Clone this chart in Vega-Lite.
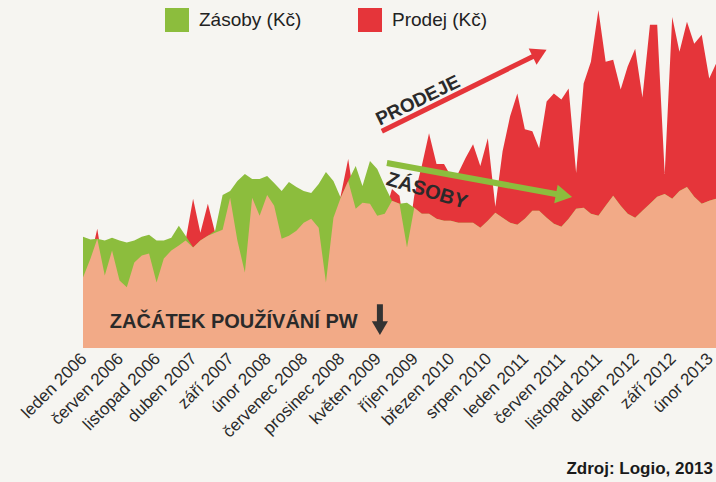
{
  "$schema": "https://vega.github.io/schema/vega-lite/v6.json",
  "width": 633,
  "height": 348,
  "autosize": {"type": "none"},
  "padding": {"left": 83, "top": 0, "right": 0, "bottom": 134},
  "background": "#f6f5f1",
  "config": {
    "view": {"stroke": null},
    "font": "Liberation Sans",
    "axisX": {
      "domain": false, "ticks": false, "grid": false,
      "labelAngle": -45, "labelFontSize": 17, "labelColor": "#2a2a2a", "labelPadding": 2,
      "labelFont": "Liberation Sans", "labelOverlap": false, "labelFlush": false, "labelBound": false,
      "labelOffset": -5
    }
  },
  "resolve": {"axis": {"x": "independent", "y": "independent"}},
  "datasets": {
    "main": [
      {"mesic": "2006-01-01", "zasoby": 112, "prodej": 71, "spolecne": 71},
      {"mesic": "2006-02-01", "zasoby": 109, "prodej": 90, "spolecne": 90},
      {"mesic": "2006-03-01", "zasoby": 110, "prodej": 120, "spolecne": 110},
      {"mesic": "2006-04-01", "zasoby": 108, "prodej": 73, "spolecne": 73},
      {"mesic": "2006-05-01", "zasoby": 111, "prodej": 98, "spolecne": 98},
      {"mesic": "2006-06-01", "zasoby": 108, "prodej": 68, "spolecne": 68},
      {"mesic": "2006-07-01", "zasoby": 106, "prodej": 61, "spolecne": 61},
      {"mesic": "2006-08-01", "zasoby": 108, "prodej": 86, "spolecne": 86},
      {"mesic": "2006-09-01", "zasoby": 112, "prodej": 93, "spolecne": 93},
      {"mesic": "2006-10-01", "zasoby": 114, "prodej": 95, "spolecne": 95},
      {"mesic": "2006-11-01", "zasoby": 108, "prodej": 66, "spolecne": 66},
      {"mesic": "2006-12-01", "zasoby": 108, "prodej": 90, "spolecne": 90},
      {"mesic": "2007-01-01", "zasoby": 111, "prodej": 98, "spolecne": 98},
      {"mesic": "2007-02-01", "zasoby": 123, "prodej": 103, "spolecne": 103},
      {"mesic": "2007-03-01", "zasoby": 113, "prodej": 108, "spolecne": 108},
      {"mesic": "2007-04-01", "zasoby": 101, "prodej": 150, "spolecne": 101},
      {"mesic": "2007-05-01", "zasoby": 108, "prodej": 116, "spolecne": 108},
      {"mesic": "2007-06-01", "zasoby": 113, "prodej": 145, "spolecne": 113},
      {"mesic": "2007-07-01", "zasoby": 118, "prodej": 116, "spolecne": 116},
      {"mesic": "2007-08-01", "zasoby": 154, "prodej": 119, "spolecne": 119},
      {"mesic": "2007-09-01", "zasoby": 158, "prodej": 151, "spolecne": 151},
      {"mesic": "2007-10-01", "zasoby": 168, "prodej": 108, "spolecne": 108},
      {"mesic": "2007-11-01", "zasoby": 175, "prodej": 76, "spolecne": 76},
      {"mesic": "2007-12-01", "zasoby": 170, "prodej": 151, "spolecne": 151},
      {"mesic": "2008-01-01", "zasoby": 170, "prodej": 133, "spolecne": 133},
      {"mesic": "2008-02-01", "zasoby": 173, "prodej": 154, "spolecne": 154},
      {"mesic": "2008-03-01", "zasoby": 166, "prodej": 143, "spolecne": 143},
      {"mesic": "2008-04-01", "zasoby": 158, "prodej": 110, "spolecne": 110},
      {"mesic": "2008-05-01", "zasoby": 167, "prodej": 113, "spolecne": 113},
      {"mesic": "2008-06-01", "zasoby": 162, "prodej": 118, "spolecne": 118},
      {"mesic": "2008-07-01", "zasoby": 158, "prodej": 126, "spolecne": 126},
      {"mesic": "2008-08-01", "zasoby": 156, "prodej": 130, "spolecne": 130},
      {"mesic": "2008-09-01", "zasoby": 165, "prodej": 121, "spolecne": 121},
      {"mesic": "2008-10-01", "zasoby": 177, "prodej": 66, "spolecne": 66},
      {"mesic": "2008-11-01", "zasoby": 168, "prodej": 131, "spolecne": 131},
      {"mesic": "2008-12-01", "zasoby": 151, "prodej": 153, "spolecne": 151},
      {"mesic": "2009-01-01", "zasoby": 168, "prodej": 190, "spolecne": 168},
      {"mesic": "2009-02-01", "zasoby": 183, "prodej": 140, "spolecne": 140},
      {"mesic": "2009-03-01", "zasoby": 163, "prodej": 146, "spolecne": 146},
      {"mesic": "2009-04-01", "zasoby": 188, "prodej": 145, "spolecne": 145},
      {"mesic": "2009-05-01", "zasoby": 180, "prodej": 133, "spolecne": 133},
      {"mesic": "2009-06-01", "zasoby": 163, "prodej": 135, "spolecne": 135},
      {"mesic": "2009-07-01", "zasoby": 148, "prodej": 160, "spolecne": 148},
      {"mesic": "2009-08-01", "zasoby": 145, "prodej": 153, "spolecne": 145},
      {"mesic": "2009-09-01", "zasoby": 146, "prodej": 101, "spolecne": 101},
      {"mesic": "2009-10-01", "zasoby": 141, "prodej": 153, "spolecne": 141},
      {"mesic": "2009-11-01", "zasoby": 135, "prodej": 183, "spolecne": 135},
      {"mesic": "2009-12-01", "zasoby": 135, "prodej": 216, "spolecne": 135},
      {"mesic": "2010-01-01", "zasoby": 130, "prodej": 185, "spolecne": 130},
      {"mesic": "2010-02-01", "zasoby": 128, "prodej": 185, "spolecne": 128},
      {"mesic": "2010-03-01", "zasoby": 128, "prodej": 173, "spolecne": 128},
      {"mesic": "2010-04-01", "zasoby": 126, "prodej": 176, "spolecne": 126},
      {"mesic": "2010-05-01", "zasoby": 126, "prodej": 191, "spolecne": 126},
      {"mesic": "2010-06-01", "zasoby": 126, "prodej": 205, "spolecne": 126},
      {"mesic": "2010-07-01", "zasoby": 121, "prodej": 183, "spolecne": 121},
      {"mesic": "2010-08-01", "zasoby": 128, "prodej": 211, "spolecne": 128},
      {"mesic": "2010-09-01", "zasoby": 136, "prodej": 142, "spolecne": 136},
      {"mesic": "2010-10-01", "zasoby": 131, "prodej": 198, "spolecne": 131},
      {"mesic": "2010-11-01", "zasoby": 126, "prodej": 233, "spolecne": 126},
      {"mesic": "2010-12-01", "zasoby": 124, "prodej": 256, "spolecne": 124},
      {"mesic": "2011-01-01", "zasoby": 130, "prodej": 220, "spolecne": 130},
      {"mesic": "2011-02-01", "zasoby": 138, "prodej": 218, "spolecne": 138},
      {"mesic": "2011-03-01", "zasoby": 138, "prodej": 201, "spolecne": 138},
      {"mesic": "2011-04-01", "zasoby": 131, "prodej": 248, "spolecne": 131},
      {"mesic": "2011-05-01", "zasoby": 125, "prodej": 256, "spolecne": 125},
      {"mesic": "2011-06-01", "zasoby": 122, "prodej": 250, "spolecne": 122},
      {"mesic": "2011-07-01", "zasoby": 130, "prodej": 261, "spolecne": 130},
      {"mesic": "2011-08-01", "zasoby": 140, "prodej": 176, "spolecne": 140},
      {"mesic": "2011-09-01", "zasoby": 141, "prodej": 266, "spolecne": 141},
      {"mesic": "2011-10-01", "zasoby": 135, "prodej": 288, "spolecne": 135},
      {"mesic": "2011-11-01", "zasoby": 133, "prodej": 340, "spolecne": 133},
      {"mesic": "2011-12-01", "zasoby": 143, "prodej": 288, "spolecne": 143},
      {"mesic": "2012-01-01", "zasoby": 153, "prodej": 290, "spolecne": 153},
      {"mesic": "2012-02-01", "zasoby": 143, "prodej": 260, "spolecne": 143},
      {"mesic": "2012-03-01", "zasoby": 135, "prodej": 283, "spolecne": 135},
      {"mesic": "2012-04-01", "zasoby": 131, "prodej": 301, "spolecne": 131},
      {"mesic": "2012-05-01", "zasoby": 138, "prodej": 252, "spolecne": 138},
      {"mesic": "2012-06-01", "zasoby": 145, "prodej": 325, "spolecne": 145},
      {"mesic": "2012-07-01", "zasoby": 152, "prodej": 325, "spolecne": 152},
      {"mesic": "2012-08-01", "zasoby": 155, "prodej": 175, "spolecne": 155},
      {"mesic": "2012-09-01", "zasoby": 150, "prodej": 333, "spolecne": 150},
      {"mesic": "2012-10-01", "zasoby": 158, "prodej": 298, "spolecne": 158},
      {"mesic": "2012-11-01", "zasoby": 162, "prodej": 328, "spolecne": 162},
      {"mesic": "2012-12-01", "zasoby": 152, "prodej": 306, "spolecne": 152},
      {"mesic": "2013-01-01", "zasoby": 145, "prodej": 315, "spolecne": 145},
      {"mesic": "2013-02-01", "zasoby": 148, "prodej": 271, "spolecne": 148},
      {"mesic": "2013-03-01", "zasoby": 150, "prodej": 286, "spolecne": 150}
    ]
  },
  "layer": [
    {
      "data": {"name": "main"},
      "mark": {"type": "area", "interpolate": "linear"},
      "encoding": {
        "x": {
          "field": "mesic", "type": "temporal", "title": null,
          "scale": {"type": "utc", "domain": [{"year": 2006, "month": 1, "date": 1, "utc": true}, {"year": 2013, "month": 3, "date": 1, "utc": true}]},
          "axis": {
            "labelOverlap": false,
            "values": [
              {"year": 2006, "month": 1, "date": 1, "utc": true},
              {"year": 2006, "month": 6, "date": 1, "utc": true},
              {"year": 2006, "month": 11, "date": 1, "utc": true},
              {"year": 2007, "month": 4, "date": 1, "utc": true},
              {"year": 2007, "month": 9, "date": 1, "utc": true},
              {"year": 2008, "month": 2, "date": 1, "utc": true},
              {"year": 2008, "month": 7, "date": 1, "utc": true},
              {"year": 2008, "month": 12, "date": 1, "utc": true},
              {"year": 2009, "month": 5, "date": 1, "utc": true},
              {"year": 2009, "month": 10, "date": 1, "utc": true},
              {"year": 2010, "month": 3, "date": 1, "utc": true},
              {"year": 2010, "month": 8, "date": 1, "utc": true},
              {"year": 2011, "month": 1, "date": 1, "utc": true},
              {"year": 2011, "month": 6, "date": 1, "utc": true},
              {"year": 2011, "month": 11, "date": 1, "utc": true},
              {"year": 2012, "month": 4, "date": 1, "utc": true},
              {"year": 2012, "month": 9, "date": 1, "utc": true},
              {"year": 2013, "month": 2, "date": 1, "utc": true}
            ],
            "labelExpr": "['leden','únor','březen','duben','květen','červen','červenec','srpen','září','říjen','listopad','prosinec'][utcmonth(datum.value)] + ' ' + utcyear(datum.value)"
          }
        },
        "y": {"field": "prodej", "type": "quantitative", "title": null, "scale": {"domain": [0, 348]}, "axis": null},
        "color": {
          "datum": "Prodej (Kč)", "type": "nominal",
          "scale": {"domain": ["Zásoby (Kč)", "Prodej (Kč)"], "range": ["#8cbd3d", "#e5353a"]},
          "legend": {
            "title": null, "orient": "none", "direction": "horizontal", "legendX": 82, "legendY": 8,
            "symbolType": "square", "symbolSize": 576, "symbolStrokeWidth": 0,
            "labelFontSize": 19, "labelFont": "Liberation Sans", "labelColor": "#222222",
            "labelOffset": 10, "columnPadding": 56, "padding": 0
          }
        }
      }
    },
    {
      "data": {"name": "main"},
      "mark": {"type": "area", "interpolate": "linear"},
      "encoding": {
        "x": {"field": "mesic", "type": "temporal", "axis": null},
        "y": {"field": "zasoby", "type": "quantitative", "axis": null},
        "color": {"datum": "Zásoby (Kč)", "type": "nominal"}
      }
    },
    {
      "data": {"name": "main"},
      "mark": {"type": "area", "interpolate": "linear", "color": "#f2aa87"},
      "encoding": {
        "x": {"field": "mesic", "type": "temporal", "axis": null},
        "y": {"field": "spolecne", "type": "quantitative", "axis": null}
      }
    },
    {
      "data": {"values": [{"od": "2009-05-20", "do": "2011-03-03", "v_od": 218, "v_do": 296.5}]},
      "mark": {"type": "rule", "color": "#e5353a", "strokeWidth": 5},
      "encoding": {
        "x": {"field": "od", "type": "temporal", "axis": null},
        "x2": {"field": "do"},
        "y": {"field": "v_od", "type": "quantitative", "axis": null},
        "y2": {"field": "v_do"}
      }
    },
    {
      "data": {"values": [{"mesic": "2011-03-03", "hodnota": 296.5}]},
      "mark": {"type": "point", "shape": "triangle-right", "filled": true, "opacity": 1, "size": 320, "angle": -26, "color": "#e5353a"},
      "encoding": {
        "x": {"field": "mesic", "type": "temporal", "axis": null},
        "y": {"field": "hodnota", "type": "quantitative", "axis": null}
      }
    },
    {
      "data": {"values": [{"od": "2009-06-10", "do": "2011-06-12", "v_od": 186, "v_do": 153.4}]},
      "mark": {"type": "rule", "color": "#8cbd3d", "strokeWidth": 6},
      "encoding": {
        "x": {"field": "od", "type": "temporal", "axis": null},
        "x2": {"field": "do"},
        "y": {"field": "v_od", "type": "quantitative", "axis": null},
        "y2": {"field": "v_do"}
      }
    },
    {
      "data": {"values": [{"mesic": "2011-06-12", "hodnota": 153.4}]},
      "mark": {"type": "point", "shape": "triangle-right", "filled": true, "opacity": 1, "size": 360, "angle": 10.4, "color": "#8cbd3d"},
      "encoding": {
        "x": {"field": "mesic", "type": "temporal", "axis": null},
        "y": {"field": "hodnota", "type": "quantitative", "axis": null}
      }
    },
    {
      "data": {"values": [{"mesic": "2009-05-12", "od": 44, "do": 24}]},
      "mark": {"type": "rule", "color": "#333333", "strokeWidth": 6},
      "encoding": {
        "x": {"field": "mesic", "type": "temporal", "axis": null},
        "y": {"field": "od", "type": "quantitative", "axis": null},
        "y2": {"field": "do"}
      }
    },
    {
      "data": {"values": [{"mesic": "2009-05-12", "hodnota": 20}]},
      "mark": {"type": "point", "shape": "triangle-down", "filled": true, "opacity": 1, "size": 260, "color": "#333333"},
      "encoding": {
        "x": {"field": "mesic", "type": "temporal", "axis": null},
        "y": {"field": "hodnota", "type": "quantitative", "axis": null}
      }
    },
    {
      "data": {"values": [{"mesic": "2009-10-16", "hodnota": 249, "text": "PRODEJE"}]},
      "mark": {"type": "text", "fontSize": 19, "fontWeight": "bold", "color": "#2a2a2a", "angle": 334, "align": "center", "baseline": "middle"},
      "encoding": {
        "x": {"field": "mesic", "type": "temporal", "axis": null},
        "y": {"field": "hodnota", "type": "quantitative", "axis": null},
        "text": {"field": "text"}
      }
    },
    {
      "data": {"values": [{"mesic": "2009-11-22", "hodnota": 158, "text": "ZÁSOBY"}]},
      "mark": {"type": "text", "fontSize": 20, "fontWeight": "bold", "color": "#2a2a2a", "angle": 17, "align": "center", "baseline": "middle"},
      "encoding": {
        "x": {"field": "mesic", "type": "temporal", "axis": null},
        "y": {"field": "hodnota", "type": "quantitative", "axis": null},
        "text": {"field": "text"}
      }
    },
    {
      "data": {"values": [{"mesic": "2006-04-22", "hodnota": 26, "text": "ZAČÁTEK POUŽÍVÁNÍ PW"}]},
      "mark": {"type": "text", "fontSize": 20, "fontWeight": "bold", "color": "#2a2a2a", "align": "left", "baseline": "middle"},
      "encoding": {
        "x": {"field": "mesic", "type": "temporal", "axis": null},
        "y": {"field": "hodnota", "type": "quantitative", "axis": null},
        "text": {"field": "text"}
      }
    },
    {
      "data": {"values": [{"mesic": "2013-02-16", "hodnota": -122, "text": "Zdroj: Logio, 2013"}]},
      "mark": {"type": "text", "fontSize": 17, "fontWeight": "bold", "color": "#1a1a1a", "align": "right", "baseline": "middle"},
      "encoding": {
        "x": {"field": "mesic", "type": "temporal", "axis": null},
        "y": {"field": "hodnota", "type": "quantitative", "axis": null},
        "text": {"field": "text"}
      }
    }
  ]
}
